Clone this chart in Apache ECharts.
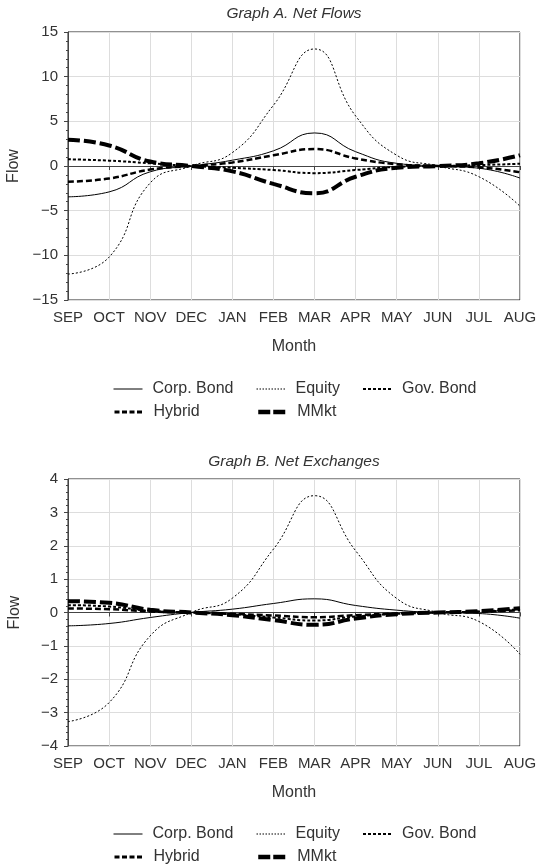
<!DOCTYPE html>
<html>
<head>
<meta charset="utf-8">
<script src="https://cdn.jsdelivr.net/npm/echarts@6/dist/echarts.min.js"></script>
<style>
  html, body { margin: 0; padding: 0; background: #fff; }
  #chart { width: 536px; height: 866px; }
</style>
</head>
<body>
<div id="chart"></div>
<script>
  const months = ['SEP', 'OCT', 'NOV', 'DEC', 'JAN', 'FEB', 'MAR', 'APR', 'MAY', 'JUN', 'JUL', 'AUG'];
  const names = ['Corp. Bond', 'Equity', 'Gov. Bond', 'Hybrid', 'MMkt'];

  // Graph A. Net Flows
  const flowCorp   = [-3.45, -2.9, -0.65, 0, 0.65, 1.7, 3.7, 1.6, 0.3, 0, -0.25, -1.35];
  const flowEquity = [-12.1, -10.2, -1.9, 0, 1.5, 6.8, 13.1, 5.6, 1.2, 0, -1.2, -4.5];
  const flowGov    = [0.75, 0.6, 0.3, 0, -0.2, -0.45, -0.8, -0.45, -0.1, 0, 0.1, 0.25];
  const flowHybrid = [-1.75, -1.4, -0.4, 0, 0.4, 1.2, 1.9, 0.85, 0.2, 0, -0.15, -0.7];
  const flowMMkt   = [2.95, 2.3, 0.5, 0, -0.6, -2.0, -3.05, -1.2, -0.2, 0, 0.3, 1.2];
  const flowTicks  = [-15, -10, -5, 0, 5, 10, 15];

  // Graph B. Net Exchanges
  const exCorp   = [-0.4, -0.33, -0.15, 0, 0.1, 0.27, 0.41, 0.21, 0.07, 0, -0.03, -0.17];
  const exEquity = [-3.27, -2.7, -0.7, 0, 0.43, 1.9, 3.5, 1.85, 0.42, 0, -0.27, -1.25];
  const exGov    = [0.22, 0.18, 0.05, 0, -0.05, -0.15, -0.24, -0.12, -0.04, 0, 0.03, 0.1];
  const exHybrid = [0.12, 0.1, 0.03, 0, -0.04, -0.09, -0.14, -0.08, -0.03, 0, 0.02, 0.07];
  const exMMkt   = [0.34, 0.29, 0.08, 0, -0.08, -0.23, -0.37, -0.18, -0.05, 0, 0.04, 0.13];
  const exTicks  = [-4, -3, -2, -1, 0, 1, 2, 3, 4];

  const font = "'Liberation Sans', Arial, Helvetica, sans-serif";
  const txt = '#333';

  const styles = {
    'Corp. Bond': { width: 1, type: 'solid' },
    'Equity': { width: 1, type: [2, 2] },
    'Gov. Bond': { width: 2, type: [3, 2] },
    'Hybrid': { width: 2.5, type: [6, 3] },
    'MMkt': { width: 4, type: [12, 4] }
  };
  // legend samples are a bit shorter-dashed than the plotted lines
  const legendStyles = {
    'Corp. Bond': { width: 1, type: 'solid' },
    'Equity': { width: 1, type: [1.5, 1.5] },
    'Gov. Bond': { width: 2, type: [3, 2] },
    'Hybrid': { width: 3, type: [5, 2.5] },
    'MMkt': { width: 4.5, type: [12, 3] }
  };

  function line(name, data, idx) {
    return {
      name: name, type: 'line', xAxisIndex: idx, yAxisIndex: idx,
      data: data, smooth: true, symbol: 'none',
      itemStyle: { color: '#000' },
      lineStyle: Object.assign({ color: '#000' }, styles[name]),
      emphasis: { disabled: true }
    };
  }

  function xAx(idx) {
    return {
      type: 'category', gridIndex: idx, data: months, boundaryGap: false,
      axisLine: { lineStyle: { color: '#444' } },
      axisTick: { length: 4, alignWithLabel: true, lineStyle: { color: '#444' } },
      axisLabel: { interval: 0, fontSize: 15, color: txt, margin: 10, fontFamily: font },
      splitLine: { show: true, lineStyle: { color: '#ddd' } },
      name: 'Month', nameLocation: 'middle', nameGap: 39,
      nameTextStyle: { fontSize: 16, color: txt, fontFamily: font }
    };
  }

  function yAx(idx, ticks) {
    return {
      type: 'value', gridIndex: idx,
      min: ticks[0], max: ticks[ticks.length - 1], interval: ticks[1] - ticks[0],
      axisLine: { show: true, lineStyle: { color: '#444' } },
      axisTick: { show: true, length: 4, lineStyle: { color: '#444' } },
      minorTick: { show: true, splitNumber: 5, length: 2, lineStyle: { color: '#444' } },
      axisLabel: {
        fontSize: 15, color: txt, margin: 10, fontFamily: font,
        formatter: v => String(v).replace('-', '\u2212')
      },
      splitLine: { show: true, lineStyle: { color: '#ddd' } },
      name: 'Flow', nameLocation: 'middle', nameGap: 45,
      nameTextStyle: { fontSize: 16, color: txt, fontFamily: font }
    };
  }

  const legendCols = [113, 256, 362];
  function legends(rowY) {
    return names.map((n, i) => ({
      data: [n], left: legendCols[i % 3], top: rowY[Math.floor(i / 3)] - 7,
      padding: 0, itemWidth: 29, itemHeight: 14,
      selectedMode: false,
      itemStyle: { opacity: 0 },
      lineStyle: Object.assign({ color: '#000' }, legendStyles[n]),
      textStyle: { fontSize: 16, color: txt, fontFamily: font, padding: [0, 0, 0, 5] }
    }));
  }

  const chart = echarts.init(document.getElementById('chart'));
  chart.setOption({
    animation: false,
    title: [
      { text: 'Graph A. Net Flows', left: 294, textAlign: 'center', top: 6, padding: 0,
        textStyle: { fontSize: 15.5, fontStyle: 'italic', fontWeight: 'normal', color: txt, fontFamily: font } },
      { text: 'Graph B. Net Exchanges', left: 294, textAlign: 'center', top: 454, padding: 0,
        textStyle: { fontSize: 15.5, fontStyle: 'italic', fontWeight: 'normal', color: txt, fontFamily: font } }
    ],
    legend: legends([388, 411]).concat(legends([833, 856])),
    grid: [
      { left: 68, right: 16, top: 32, height: 268, show: true, borderColor: '#222', borderWidth: 1, outerBoundsMode: 'none' },
      { left: 68, right: 16, top: 479, height: 267, show: true, borderColor: '#222', borderWidth: 1, outerBoundsMode: 'none' }
    ],
    xAxis: [xAx(0), xAx(1)],
    yAxis: [yAx(0, flowTicks), yAx(1, exTicks)],
    series: [
      line('Corp. Bond', flowCorp, 0),
      line('Equity', flowEquity, 0),
      line('Gov. Bond', flowGov, 0),
      line('Hybrid', flowHybrid, 0),
      line('MMkt', flowMMkt, 0),
      line('Corp. Bond', exCorp, 1),
      line('Equity', exEquity, 1),
      line('Gov. Bond', exGov, 1),
      line('Hybrid', exHybrid, 1),
      line('MMkt', exMMkt, 1)
    ]
  });
</script>
</body>
</html>
